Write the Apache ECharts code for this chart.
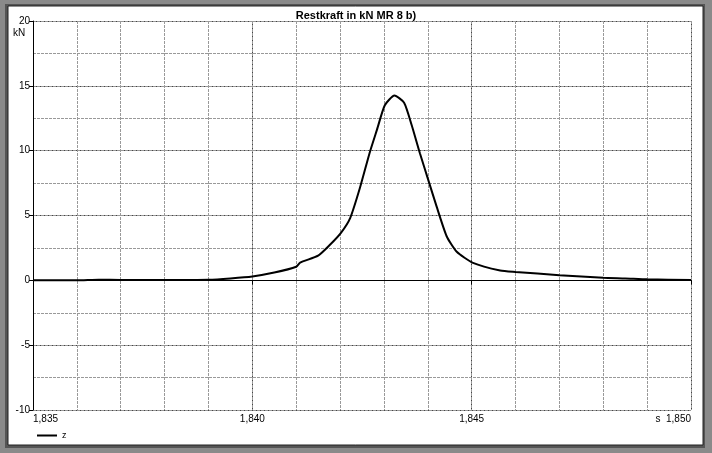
<!DOCTYPE html><html><head><meta charset="utf-8"><script src="https://cdn.jsdelivr.net/npm/echarts@6/dist/echarts.min.js"></script>
<style>body{margin:0;background:#8a8a8a}#c{width:712px;height:453px}</style></head><body><div id="c"></div><script>
const times=[1.835,1.836,1.8365,1.837,1.838,1.839,1.8395,1.840,1.8405,1.841,1.84109,1.8415,1.84177,1.84202,1.84223,1.84245,1.84268,1.84284,1.84302,1.84324,1.84346,1.84363,1.84382,1.84401,1.8442,1.84443,1.84466,1.84503,1.84565,1.846,1.847,1.848,1.8485,1.849,1.850];
const zValues=[0,0,0.05,0.03,0.03,0.05,0.15,0.3,0.6,1.05,1.37,1.9,2.74,3.66,4.8,7.1,9.9,11.6,13.5,14.25,13.7,12.0,9.8,7.75,5.7,3.4,2.2,1.35,0.76,0.65,0.4,0.2,0.15,0.08,0.03];
const yTicks=[-10,-5,0,5,10,15,20];
const fmt=v=>{const s=(+v).toFixed(3).replace('.',',');return Math.abs(v-1.85)<1e-9?'s  '+s:s;};
const c=echarts.init(document.getElementById('c'));
const axLine={lineStyle:{color:'#000'}};
c.setOption({
animation:false,
graphic:[
{type:'rect',shape:{x:5,y:4,width:700,height:444},style:{fill:'#555'},z:-10,silent:true},
{type:'rect',shape:{x:8,y:6,width:695,height:439},style:{fill:'#fff',stroke:'#222',lineWidth:1},z:-9,silent:true},
{type:'text',left:13,top:28,style:{text:'kN',font:'10px Arial',fill:'#000'}}
],
title:{text:'Restkraft in kN MR 8 b)',left:'center',top:5,textStyle:{fontSize:11,fontWeight:'bold',fontFamily:'Liberation Sans',color:'#000'}},
legend:{left:32,bottom:8,itemWidth:20,itemHeight:2,icon:'rect',textStyle:{fontSize:9,color:'#000'},data:['z']},
grid:{left:33,right:21,top:21,bottom:43},
xAxis:[
{type:'value',min:1.835,max:1.850,interval:0.005,axisLine:axLine,axisTick:{length:4,lineStyle:{color:'#000'}},
 axisLabel:{formatter:fmt,fontSize:10,color:'#000',fontFamily:'Liberation Sans',margin:4,alignMinLabel:'left',alignMaxLabel:'right'},
 splitLine:{lineStyle:{color:'#444',width:1}}},
{type:'value',min:1.835,max:1.850,interval:0.001,position:'bottom',axisLine:{show:false},axisTick:{show:false},axisLabel:{show:false},
 splitLine:{lineStyle:{color:'#999',type:[3,1]}}}
],
yAxis:[
{type:'value',min:-10,max:20,interval:5,axisLine:{show:true,lineStyle:{color:'#000'}},axisTick:{show:true,length:4,lineStyle:{color:'#000'}},
 axisLabel:{fontSize:10,color:'#000',fontFamily:'Liberation Sans',margin:3},splitLine:{lineStyle:{color:'#444'}}},
{type:'value',min:-10,max:20,interval:2.5,position:'left',axisLine:{show:false},axisTick:{show:false},axisLabel:{show:false},
 splitLine:{lineStyle:{color:'#999',type:[3,1]}}}
],
series:[{name:'z',type:'line',data:times.map((t,i)=>[t,zValues[i]]),showSymbol:false,smooth:0.2,lineStyle:{color:'#000',width:2},itemStyle:{color:'#000'},z:5}]
});
</script></body></html>
